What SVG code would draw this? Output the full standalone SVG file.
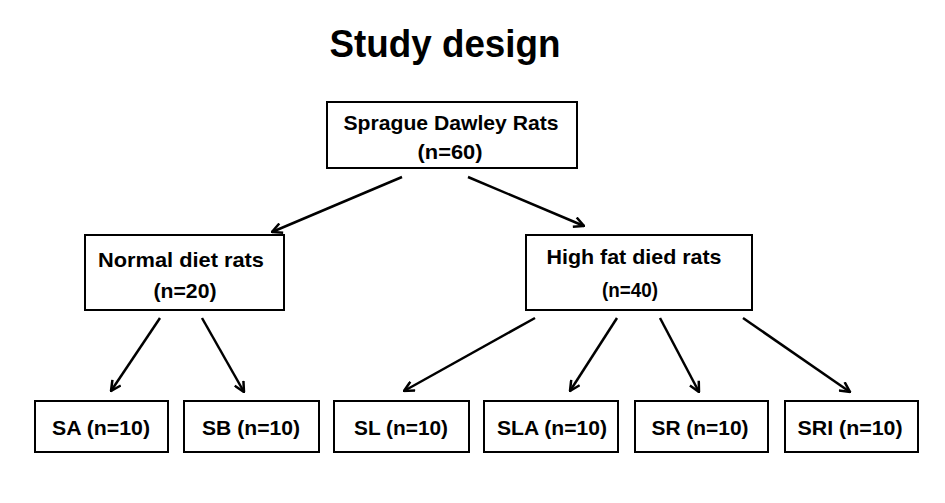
<svg xmlns="http://www.w3.org/2000/svg" width="945" height="503" viewBox="0 0 945 503">
<style>
.box{fill:#fff;stroke:#000;stroke-width:2}
.t{font-family:"Liberation Sans",Arial,sans-serif;font-weight:bold;font-size:21px;fill:#000;text-anchor:middle}
.c{stroke:#000;stroke-width:2.5;fill:none}
</style>
<defs>
<marker id="ah" viewBox="0 0 12 12" refX="11" refY="6" markerWidth="12" markerHeight="12" markerUnits="userSpaceOnUse" orient="auto">
<polyline points="1,1 11,6 1,11" fill="none" stroke="#000" stroke-width="2.5"/>
</marker>
</defs>
<rect width="945" height="503" fill="#fff"/>
<text x="445" y="57" class="t" style="font-size:39px" textLength="231" lengthAdjust="spacingAndGlyphs">Study design</text>
<g id="root">
<rect class="box" x="327" y="102" width="250" height="66"/>
<text x="451" y="130" class="t" textLength="215" lengthAdjust="spacingAndGlyphs">Sprague Dawley Rats</text>
<text x="450" y="159" class="t" textLength="65" lengthAdjust="spacingAndGlyphs">(n=60)</text>
</g>
<g id="normal">
<rect class="box" x="85" y="235" width="199" height="75"/>
<text x="181" y="267" class="t" textLength="166" lengthAdjust="spacingAndGlyphs">Normal diet rats</text>
<text x="185" y="298" class="t" textLength="63" lengthAdjust="spacingAndGlyphs">(n=20)</text>
</g>
<g id="highfat">
<rect class="box" x="526" y="235" width="226" height="75"/>
<text x="634" y="264" class="t" textLength="175" lengthAdjust="spacingAndGlyphs">High fat died rats</text>
<text x="630" y="297" class="t" textLength="56" lengthAdjust="spacingAndGlyphs">(n=40)</text>
</g>
<g id="sa"><rect class="box" x="35" y="401" width="133" height="51"/><text x="101" y="435" class="t" textLength="98" lengthAdjust="spacingAndGlyphs">SA (n=10)</text></g>
<g id="sb"><rect class="box" x="184" y="401" width="135" height="51"/><text x="251" y="435" class="t" textLength="98" lengthAdjust="spacingAndGlyphs">SB (n=10)</text></g>
<g id="sl"><rect class="box" x="334" y="401" width="135" height="51"/><text x="401" y="435" class="t" textLength="94" lengthAdjust="spacingAndGlyphs">SL (n=10)</text></g>
<g id="sla"><rect class="box" x="484" y="401" width="134" height="51"/><text x="552" y="435" class="t" textLength="110" lengthAdjust="spacingAndGlyphs">SLA (n=10)</text></g>
<g id="sr"><rect class="box" x="635" y="401" width="133" height="51"/><text x="700" y="435" class="t" textLength="97" lengthAdjust="spacingAndGlyphs">SR (n=10)</text></g>
<g id="sri"><rect class="box" x="785" y="401" width="133" height="51"/><text x="850" y="435" class="t" textLength="105" lengthAdjust="spacingAndGlyphs">SRI (n=10)</text></g>
<g id="connectors">
<line class="c" x1="402" y1="177" x2="272" y2="232" marker-end="url(#ah)"/>
<line class="c" x1="468" y1="177" x2="584" y2="226" marker-end="url(#ah)"/>
<line class="c" x1="160" y1="318" x2="111" y2="391" marker-end="url(#ah)"/>
<line class="c" x1="202" y1="318" x2="244" y2="392" marker-end="url(#ah)"/>
<line class="c" x1="535" y1="318" x2="404" y2="391" marker-end="url(#ah)"/>
<line class="c" x1="617" y1="318" x2="570" y2="391" marker-end="url(#ah)"/>
<line class="c" x1="660" y1="318" x2="699" y2="392" marker-end="url(#ah)"/>
<line class="c" x1="743" y1="318" x2="850" y2="392" marker-end="url(#ah)"/>
</g>
</svg>
